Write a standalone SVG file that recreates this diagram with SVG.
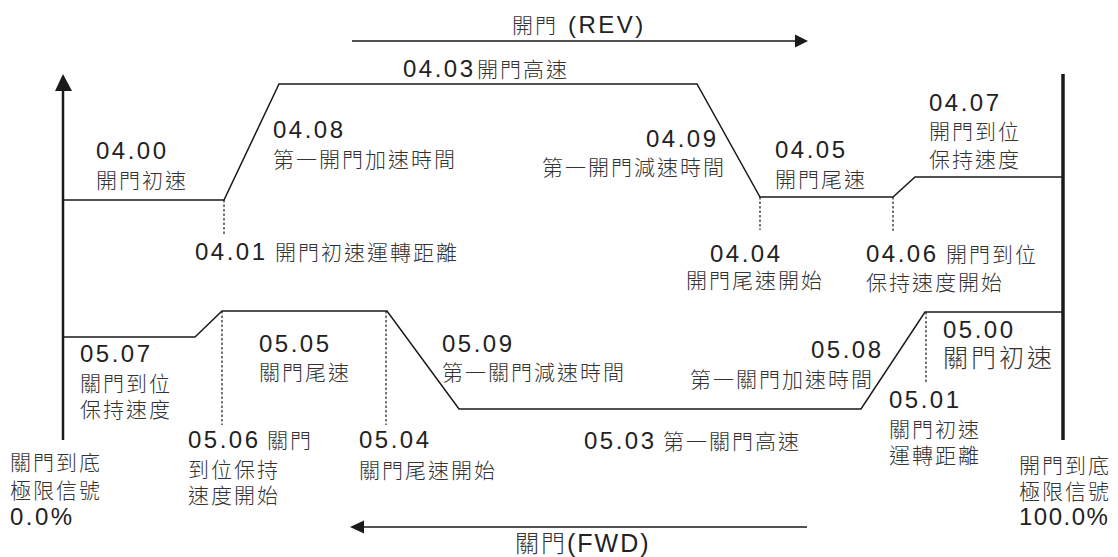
<svg xmlns="http://www.w3.org/2000/svg" width="1118" height="557" viewBox="0 0 1118 557">
<style>
text{font-family:"Liberation Sans","Noto Sans CJK TC",sans-serif;fill:#222;}
.n{font-size:24px;letter-spacing:2.5px;}
.c{font-size:21px;letter-spacing:2px;font-weight:300;fill:#333;}
.cb{font-size:25px;letter-spacing:3px;font-weight:300;fill:#333;}
.ln{fill:none;stroke:#1a1a1a;stroke-width:1.5;}
.ds{fill:none;stroke:#1a1a1a;stroke-width:1.2;stroke-dasharray:2.5 2;}
.ar{fill:#1a1a1a;}
</style>
<rect width="1118" height="557" fill="#fff"/>
<g id="connectors">
<line x1="63" y1="88" x2="63" y2="440" stroke="#1a1a1a" stroke-width="2.5"/>
<polygon class="ar" points="63,74 55,91 72,91"/>
<line x1="1063" y1="74" x2="1063" y2="440" stroke="#1a1a1a" stroke-width="3.5"/>
<line x1="352" y1="41" x2="797" y2="41" stroke="#1a1a1a" stroke-width="1.3"/>
<polygon class="ar" points="808,41 795,34.5 795,47.5"/>
<line x1="362" y1="527" x2="807" y2="527" stroke="#1a1a1a" stroke-width="1.3"/>
<polygon class="ar" points="350,527 364,520.5 364,533.5"/>
<polyline class="ln" points="63,200 224,200 279,84 697,84 760,197 893,197 915,177 1063,177"/>
<polyline class="ln" points="63,337 195,337 222,311 387,311 459,409 861,409 925,312 1063,312"/>
<line class="ds" x1="224" y1="200" x2="224" y2="235"/>
<line class="ds" x1="760" y1="197" x2="760" y2="230"/>
<line class="ds" x1="893" y1="197" x2="893" y2="233"/>
<line class="ds" x1="222" y1="311" x2="222" y2="425"/>
<line class="ds" x1="386" y1="311" x2="386" y2="425"/>
<line class="ds" x1="926" y1="312" x2="926" y2="382"/>
</g>
<g id="rev"><text x="512" y="33"><tspan class="c">開門</tspan><tspan class="n" x="568">(REV)</tspan></text></g>
<g id="fwd"><text x="515" y="552"><tspan class="cb" style="font-size:24px;letter-spacing:2px">關門</tspan><tspan class="n" x="567" style="font-size:25px;letter-spacing:2px">(FWD)</tspan></text></g>
<g id="p0403"><text x="403" y="77"><tspan class="n">04.03</tspan><tspan class="c" x="477">開門高速</tspan></text></g>
<g id="p0400"><text class="n" x="96" y="159">04.00</text><text class="c" x="96" y="188">開門初速</text></g>
<g id="p0408"><text class="n" x="273" y="138">04.08</text><text class="c" x="273" y="167">第一開門加速時間</text></g>
<g id="p0401"><text x="195" y="260"><tspan class="n">04.01</tspan><tspan class="c" x="275">開門初速運轉距離</tspan></text></g>
<g id="p0409"><text class="n" x="646" y="147">04.09</text><text class="c" x="542" y="175">第一開門減速時間</text></g>
<g id="p0405"><text class="n" x="775" y="158">04.05</text><text class="c" x="775" y="187">開門尾速</text></g>
<g id="p0407"><text class="n" x="929" y="111">04.07</text><text class="c" x="929" y="139">開門到位</text><text class="c" x="929" y="167">保持速度</text></g>
<g id="p0404"><text class="n" x="710" y="262">04.04</text><text class="c" x="686" y="288">開門尾速開始</text></g>
<g id="p0406"><text x="866" y="262"><tspan class="n">04.06</tspan><tspan class="c" x="946">開門到位</tspan></text><text class="c" x="866" y="290">保持速度開始</text></g>
<g id="p0507"><text class="n" x="80" y="362">05.07</text><text class="c" x="80" y="391">關門到位</text><text class="c" x="80" y="417">保持速度</text></g>
<g id="p0505"><text class="n" x="259" y="352">05.05</text><text class="c" x="259" y="380">關門尾速</text></g>
<g id="p0506"><text x="188" y="448"><tspan class="n">05.06</tspan><tspan class="c" x="267">關門</tspan></text><text class="c" x="188" y="477">到位保持</text><text class="c" x="188" y="503">速度開始</text></g>
<g id="p0504"><text class="n" x="359" y="448">05.04</text><text class="c" x="359" y="478">關門尾速開始</text></g>
<g id="p0509"><text class="n" x="442" y="352">05.09</text><text class="c" x="442" y="380">第一關門減速時間</text></g>
<g id="p0503"><text x="584" y="449"><tspan class="n">05.03</tspan><tspan class="c" x="663">第一關門高速</tspan></text></g>
<g id="p0508"><text class="n" x="811" y="358">05.08</text><text class="c" x="690" y="387">第一關門加速時間</text></g>
<g id="p0500"><text class="n" x="943" y="338">05.00</text><text class="cb" x="943" y="367">關門初速</text></g>
<g id="p0501"><text class="n" x="889" y="408">05.01</text><text class="c" x="889" y="437">關門初速</text><text class="c" x="889" y="463">運轉距離</text></g>
<g id="left-limit"><text class="c" x="10" y="470">關門到底</text><text class="c" x="10" y="498">極限信號</text><text class="n" x="10" y="525">0.0%</text></g>
<g id="right-limit"><text class="c" x="1019" y="473">開門到底</text><text class="c" x="1019" y="499">極限信號</text><text class="n" x="1019" y="525" style="letter-spacing:1.5px">100.0%</text></g>
</svg>
